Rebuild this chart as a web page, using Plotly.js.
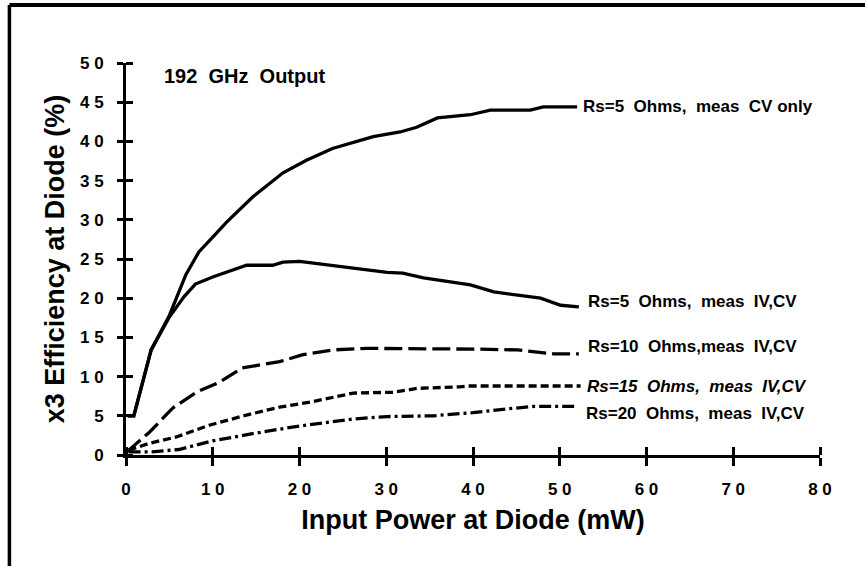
<!DOCTYPE html>
<html>
<head>
<meta charset="utf-8">
<script src="https://cdn.plot.ly/plotly-3.0.1.min.js"></script>
<style>
  html, body { margin: 0; padding: 0; background: #fff; }
  #chart { width: 865px; height: 566px; }
</style>
</head>
<body>
<div id="chart"></div>
<script>
// ---- Data ----
const chartTitle = "192  GHz  Output";
const xTitle = "Input Power at Diode (mW)";
const yTitle = "x3 Efficiency at Diode (%)";

const xTickVals = [0, 10, 20, 30, 40, 50, 60, 70, 80];
const yTickVals = [0, 5, 10, 15, 20, 25, 30, 35, 40, 45, 50];

const seriesNames = [
  "Rs=5  Ohms,  meas  CV only",
  "Rs=5  Ohms,  meas  IV,CV",
  "Rs=10  Ohms,meas  IV,CV",
  "<i>Rs=15  Ohms,  meas  IV,CV</i>",
  "Rs=20  Ohms,  meas  IV,CV"
];

const cvOnlyX = [0.2, 0.9, 2.9, 5.0, 6.9, 8.4, 10.0, 11.6, 14.6, 18.1, 20.8, 23.8, 28.5, 31.6, 33.5, 35.9, 39.7, 42.0, 46.6, 48.1, 52.0];
const cvOnlyY = [5.0, 5.0, 13.4, 17.8, 23.0, 25.9, 27.8, 29.7, 32.9, 36.0, 37.6, 39.1, 40.6, 41.2, 41.8, 43.0, 43.4, 44.0, 44.0, 44.4, 44.4];

const rs5X = [0.2, 0.9, 2.9, 5.0, 6.7, 8.0, 10.0, 13.9, 16.9, 18.1, 20.0, 21.5, 23.8, 26.2, 30.1, 31.9, 34.3, 39.7, 42.4, 47.8, 50.1, 52.2];
const rs5Y = [5.0, 5.0, 13.4, 17.6, 20.2, 21.8, 22.7, 24.2, 24.2, 24.6, 24.7, 24.5, 24.2, 23.8, 23.3, 23.2, 22.6, 21.7, 20.8, 20.0, 19.1, 18.9];

const rs10X = [0.1, 2.7, 5.4, 8.1, 10.8, 13.4, 17.7, 20.4, 23.8, 27.8, 40.9, 45.1, 49.3, 52.2];
const rs10Y = [0.4, 2.9, 6.0, 8.0, 9.3, 11.1, 11.9, 12.8, 13.4, 13.6, 13.5, 13.4, 12.9, 12.9];

const rs15X = [0.3, 2.7, 5.8, 9.6, 13.9, 17.7, 21.5, 26.2, 30.8, 33.6, 38.5, 39.3, 52.4];
const rs15Y = [0.6, 1.5, 2.3, 3.8, 5.1, 6.1, 6.8, 7.9, 8.0, 8.5, 8.7, 8.8, 8.8];

const rs20X = [0.3, 3.0, 6.1, 10.0, 15.0, 20.0, 26.2, 30.1, 35.4, 40.0, 43.2, 47.0, 52.1];
const rs20Y = [0.4, 0.4, 0.7, 1.8, 2.8, 3.7, 4.6, 4.9, 5.0, 5.4, 5.8, 6.2, 6.2];

// ---- Styling ----
const FONT = "Liberation Sans, Arial, Helvetica, sans-serif";
const dashes = ["solid", "solid", "18px,6px", "8px,4px", "12px,4px,3px,4px"];
const labelShiftY = [0, 5, 7, 0, -7];
const labelShiftX = [4, 7, 7, 4, 6];

const xs = [cvOnlyX, rs5X, rs10X, rs15X, rs20X];
const ys = [cvOnlyY, rs5Y, rs10Y, rs15Y, rs20Y];

const spaced = v => String(v).split("").join(" ");

const traces = xs.map((x, i) => ({
  type: "scatter",
  mode: "lines",
  x: x,
  y: ys[i],
  name: seriesNames[i],
  line: { color: "#000", width: 3.3, dash: dashes[i], shape: "linear" },
  showlegend: false,
  hoverinfo: "skip"
}));

const annotations = xs.map((x, i) => ({
  x: x[x.length - 1],
  y: ys[i][ys[i].length - 1],
  xref: "x", yref: "y",
  text: seriesNames[i],
  showarrow: false,
  xanchor: "left", yanchor: "middle",
  xshift: labelShiftX[i], yshift: labelShiftY[i],
  font: { family: FONT, size: 17, color: "#000", weight: "bold" }
}));

annotations.push({
  xref: "paper", yref: "paper",
  x: 0.052, y: 0.967,
  xanchor: "left", yanchor: "middle",
  text: chartTitle,
  showarrow: false,
  font: { family: FONT, size: 20, color: "#000", weight: "bold" }
});

const tickFont = { family: FONT, size: 17, color: "#000", weight: "bold" };
const titleFont = { family: FONT, size: 27, color: "#000", weight: "bold" };

// inner half of the crossing ticks drawn as minor ticks (tiny offset so they are not merged with the majors)
const innerTicks = (vals, len) => ({
  tickmode: "array", tickvals: vals.map(v => v + 1e-4),
  ticks: "inside", ticklen: len, tickwidth: 3, tickcolor: "#000", showgrid: false
});

const layout = {
  width: 865, height: 566,
  paper_bgcolor: "#fff", plot_bgcolor: "#fff",
  margin: { l: 126, r: 45, t: 63, b: 111, pad: 0 },
  showlegend: false,
  xaxis: {
    range: [0, 80], autorange: false,
    tickmode: "array", tickvals: xTickVals, ticktext: xTickVals.map(spaced),
    ticks: "outside", ticklen: 8, tickwidth: 3, tickcolor: "#000",
    ticklabelstandoff: 9,
    minor: innerTicks(xTickVals, 8),
    showline: true, linecolor: "#000", linewidth: 3,
    showgrid: false, zeroline: false,
    tickfont: tickFont,
    title: { text: xTitle, font: titleFont, standoff: 12 },
    automargin: false
  },
  yaxis: {
    range: [0, 50], autorange: false,
    tickmode: "array", tickvals: yTickVals, ticktext: yTickVals.map(spaced),
    ticks: "outside", ticklen: 6, tickwidth: 3, tickcolor: "#000",
    ticklabelstandoff: 10,
    minor: innerTicks(yTickVals, 7),
    showline: true, linecolor: "#000", linewidth: 3,
    showgrid: false, zeroline: false,
    tickfont: tickFont,
    title: { text: yTitle, font: titleFont, standoff: 8 },
    automargin: false
  },
  annotations: annotations,
  shapes: [
    { type: "line", xref: "paper", yref: "paper", x0: -0.168, x1: 1.08, y0: 1.148, y1: 1.148, line: { color: "#000", width: 4 } },
    { type: "line", xref: "paper", yref: "paper", x0: -0.168, x1: -0.168, y0: 1.148, y1: -0.3, line: { color: "#000", width: 3.5 } }
  ]
};

Plotly.newPlot("chart", traces, layout, { staticPlot: true, displayModeBar: false });
</script>
</body>
</html>
